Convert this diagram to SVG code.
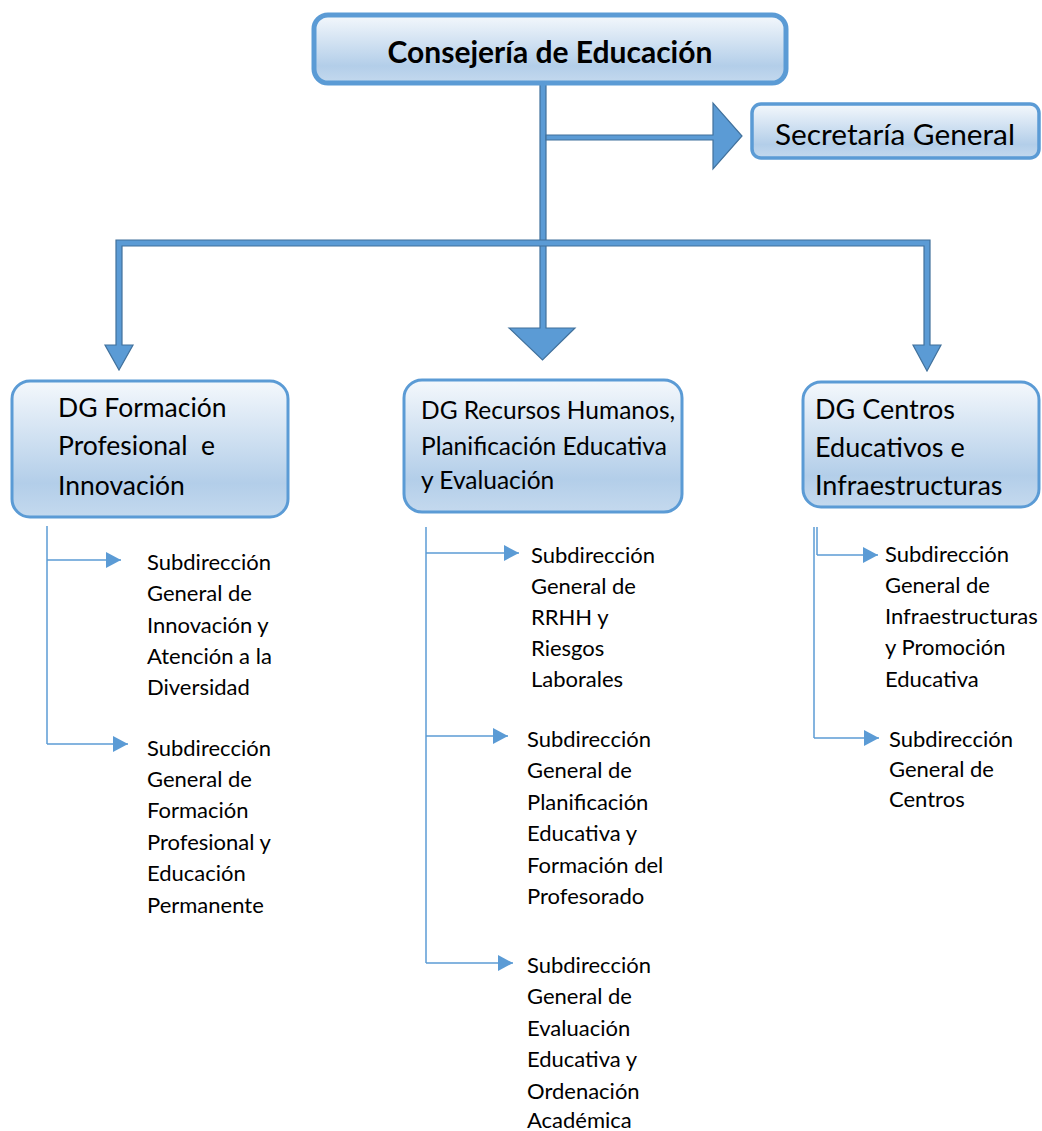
<svg xmlns="http://www.w3.org/2000/svg" width="1042" height="1131" viewBox="0 0 1042 1131">
<defs>
<linearGradient id="g" x1="0" y1="0" x2="0" y2="1">
<stop offset="0" stop-color="#f4f8fc"/>
<stop offset="0.75" stop-color="#b3cee9"/>
<stop offset="1" stop-color="#c4d9ee"/>
</linearGradient>
<marker id="ah" markerWidth="16" markerHeight="16" refX="15" refY="8" orient="auto" markerUnits="userSpaceOnUse">
<path d="M0,0 L15,8 L0,16 Z" fill="#5b9bd5"/>
</marker>
</defs>
<style>
.box{fill:url(#g);stroke:#5b9bd5;stroke-width:3}
.t{font-family:Lato,"Liberation Sans",sans-serif;fill:#000}
.dg{font-size:24.5px}
.sub{font-size:22px}
.thick{fill:#5b9bd5;stroke:#41719c;stroke-width:1.2}
.thin{fill:none;stroke:#5b9bd5;stroke-width:1.5}
</style>
<g id="connectors">
<path class="thick" d="M540,84 H546 V328 H575 L542.5,360 L509,328 H540 Z"/>
<path class="thick" d="M546,135 H713 V103 L742,136 L713,169 V140 H546 Z"/>
<path class="thick" d="M116,240 H930 V345 H941 L927,371 L913,345 H924 V246 H122 V345 H133 L119,370 L105,345 H116 Z"/>
<path class="thin" d="M47,526 V744"/>
<path class="thin" d="M47,560 H121" marker-end="url(#ah)"/>
<path class="thin" d="M47,744 H128" marker-end="url(#ah)"/>
<path class="thin" d="M426,527 V963"/>
<path class="thin" d="M426,553 H519" marker-end="url(#ah)"/>
<path class="thin" d="M426,736 H508" marker-end="url(#ah)"/>
<path class="thin" d="M426,963 H513" marker-end="url(#ah)"/>
<path class="thin" d="M814,527 V738"/>
<path class="thin" d="M817,527 V555"/>
<path class="thin" d="M817,555 H878" marker-end="url(#ah)"/>
<path class="thin" d="M814,738 H879" marker-end="url(#ah)"/>
</g>
<g id="consejeria">
<rect x="314" y="15" width="472" height="68" rx="14" class="box" style="stroke-width:5"/>
<text class="t" x="550" y="63" text-anchor="middle" font-size="30" font-weight="bold">Consejería de Educación</text>
</g>
<g id="secretaria">
<rect x="752" y="104" width="287" height="54" rx="9" class="box" style="stroke-width:3.5"/>
<text class="t" x="775" y="145" font-size="29.8">Secretaría General</text>
</g>
<g id="dg-fp">
<rect x="12" y="381" width="276" height="136" rx="18" class="box"/>
<text class="t dg" x="58" y="417" style="font-size:26.5px">DG Formación</text>
<text class="t dg" x="58" y="455" style="font-size:26.5px" xml:space="preserve">Profesional  e</text>
<text class="t dg" x="58" y="495" style="font-size:26.5px">Innovación</text>
</g>
<g id="dg-rrhh">
<rect x="404" y="380" width="278" height="132" rx="18" class="box"/>
<text class="t dg" x="421" y="419">DG Recursos Humanos,</text>
<text class="t dg" x="421" y="455">Planificación Educativa</text>
<text class="t dg" x="421" y="489">y Evaluación</text>
</g>
<g id="dg-centros">
<rect x="803" y="382" width="236" height="125" rx="18" class="box"/>
<text class="t dg" x="815" y="419" style="font-size:27px">DG Centros</text>
<text class="t dg" x="815" y="457" style="font-size:27px">Educativos e</text>
<text class="t dg" x="815" y="495" style="font-size:27px">Infraestructuras</text>
</g>
<g id="sg-innovacion">
<text class="t sub" x="147" y="570">Subdirección</text>
<text class="t sub" x="147" y="601">General de</text>
<text class="t sub" x="147" y="633">Innovación y</text>
<text class="t sub" x="147" y="664">Atención a la</text>
<text class="t sub" x="147" y="695">Diversidad</text>
</g>
<g id="sg-fp">
<text class="t sub" x="147" y="756">Subdirección</text>
<text class="t sub" x="147" y="787">General de</text>
<text class="t sub" x="147" y="818">Formación</text>
<text class="t sub" x="147" y="850">Profesional y</text>
<text class="t sub" x="147" y="881">Educación</text>
<text class="t sub" x="147" y="913">Permanente</text>
</g>
<g id="sg-rrhh">
<text class="t sub" x="531" y="563">Subdirección</text>
<text class="t sub" x="531" y="594">General de</text>
<text class="t sub" x="531" y="625">RRHH y</text>
<text class="t sub" x="531" y="656">Riesgos</text>
<text class="t sub" x="531" y="687">Laborales</text>
</g>
<g id="sg-planificacion">
<text class="t sub" x="527" y="747">Subdirección</text>
<text class="t sub" x="527" y="778">General de</text>
<text class="t sub" x="527" y="810">Planificación</text>
<text class="t sub" x="527" y="841">Educativa y</text>
<text class="t sub" x="527" y="873">Formación del</text>
<text class="t sub" x="527" y="904">Profesorado</text>
</g>
<g id="sg-evaluacion">
<text class="t sub" x="527" y="973">Subdirección</text>
<text class="t sub" x="527" y="1004">General de</text>
<text class="t sub" x="527" y="1036">Evaluación</text>
<text class="t sub" x="527" y="1067">Educativa y</text>
<text class="t sub" x="527" y="1099">Ordenación</text>
<text class="t sub" x="527" y="1128">Académica</text>
</g>
<g id="sg-infraestructuras">
<text class="t sub" x="885" y="562">Subdirección</text>
<text class="t sub" x="885" y="593">General de</text>
<text class="t sub" x="885" y="624">Infraestructuras</text>
<text class="t sub" x="885" y="655">y Promoción</text>
<text class="t sub" x="885" y="687">Educativa</text>
</g>
<g id="sg-centros">
<text class="t sub" x="889" y="747">Subdirección</text>
<text class="t sub" x="889" y="777">General de</text>
<text class="t sub" x="889" y="807">Centros</text>
</g>
</svg>
